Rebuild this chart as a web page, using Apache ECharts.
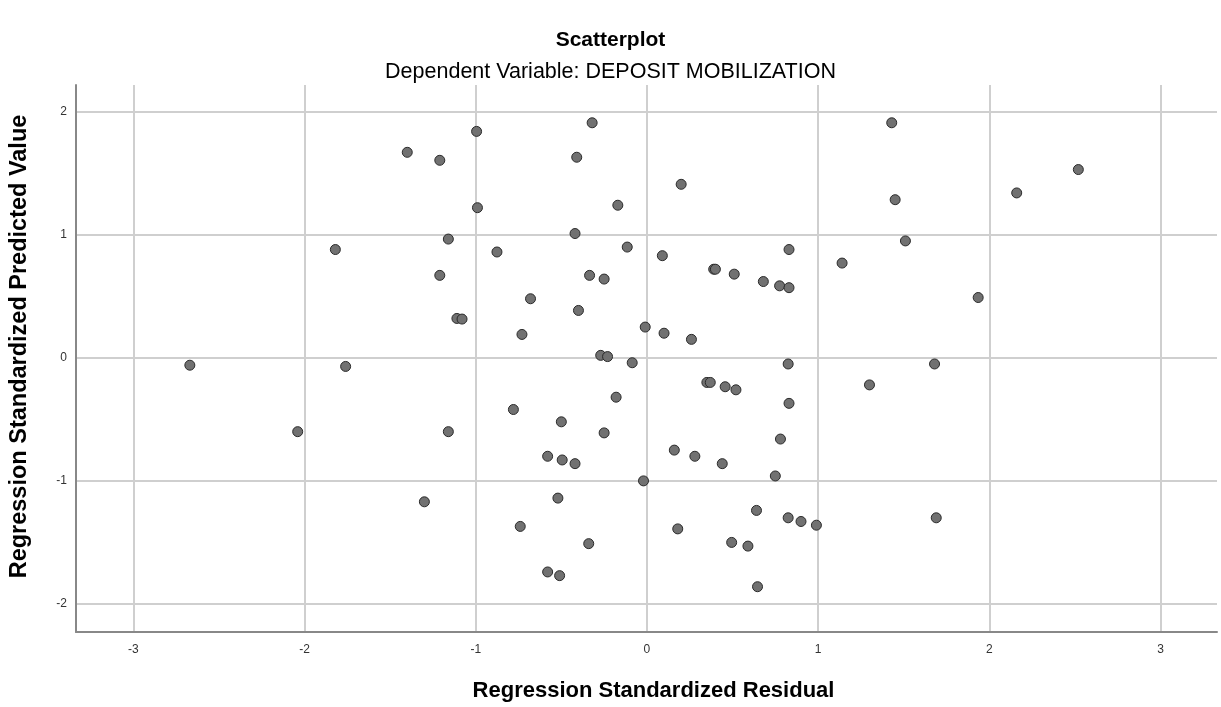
<!DOCTYPE html>
<html>

<head>
    <title>Scatterplot</title>
    <meta charset="utf-8">
    <script src="https://cdn.jsdelivr.net/npm/echarts@6/dist/echarts.min.js"></script>
    <style>
        html, body { margin: 0; padding: 0; background: #fff; }
    </style>
</head>

<body>
    <div id="scatter" style="width: 1221px;height:707px;"></div>
    <script>
        // regression standardized residual (x) and predicted value (y)
        var residual = [
            -2.67, -2.04, -1.82, -1.76, -1.40, -1.30, -1.21, -1.21, -1.16, -1.16,
            -1.11, -1.08, -0.995, -0.99, -0.876, -0.78, -0.68, -0.73, -0.74, -0.58,
            -0.58, -0.51, -0.52, -0.50, -0.495, -0.42, -0.41, -0.42, -0.40, -0.335,
            -0.34, -0.32, -0.27, -0.23, -0.25, -0.25, -0.18, -0.17, -0.115, -0.086,
            -0.02, -0.01, 0.09, 0.10, 0.16, 0.18, 0.20, 0.26, 0.28, 0.35,
            0.37, 0.39, 0.40, 0.44, 0.457, 0.495, 0.51, 0.52, 0.59, 0.64,
            0.646, 0.68, 0.75, 0.775, 0.78, 0.825, 0.825, 0.83, 0.83, 0.83,
            0.90, 0.99, 1.14, 1.30, 1.43, 1.45, 1.51, 1.68, 1.69, 1.935,
            2.16, 2.52
        ];
        var predicted = [
            -0.06, -0.60, 0.88, -0.07, 1.67, -1.17, 1.605, 0.67, 0.965, -0.60,
            0.32, 0.315, 1.84, 1.22, 0.86, -0.42, 0.48, 0.19, -1.37, -0.80,
            -1.74, -1.77, -1.14, -0.52, -0.83, -0.86, 1.63, 1.01, 0.385, 0.67,
            -1.51, 1.91, 0.02, 0.01, 0.64, -0.61, -0.32, 1.24, 0.90, -0.04,
            -1.00, 0.25, 0.83, 0.20, -0.75, -1.39, 1.41, 0.15, -0.80, -0.20,
            -0.20, 0.72, 0.72, -0.86, -0.235, -1.50, 0.68, -0.26, -1.53, -1.24,
            -1.86, 0.62, -0.96, 0.585, -0.66, -1.30, -0.05, 0.88, 0.57, -0.37,
            -1.33, -1.36, 0.77, -0.22, 1.91, 1.285, 0.95, -0.05, -1.30, 0.49,
            1.34, 1.53
        ];
        var xTicks = [-3, -2, -1, 0, 1, 2, 3];
        var yTicks = [-2, -1, 0, 1, 2];

        var points = residual.map(function (x, i) { return [x, predicted[i]]; });

        var font = '"Liberation Sans", Arial, sans-serif';
        var chart = echarts.init(document.getElementById('scatter'));
        chart.setOption({
            animation: false,
            title: [
                {
                    text: 'Scatterplot',
                    left: 'center',
                    top: 25,
                    textStyle: { fontFamily: font, fontSize: 21, fontWeight: 'bold', color: '#000' }
                },
                {
                    text: 'Dependent Variable: DEPOSIT MOBILIZATION',
                    left: 'center',
                    top: 56,
                    textStyle: { fontFamily: font, fontSize: 21.5, fontWeight: 'normal', color: '#000' }
                }
            ],
            grid: { left: 76, right: 4, top: 85, bottom: 75 },
            xAxis: {
                type: 'value',
                min: -3.335,
                max: 3.33,
                splitNumber: 6,
                name: 'Regression Standardized Residual',
                nameLocation: 'middle',
                nameGap: 48,
                nameTextStyle: { fontFamily: font, fontSize: 22, fontWeight: 'bold', color: '#000', padding: [0, 0, 0, 14] },
                axisLine: { onZero: false, lineStyle: { color: '#888', width: 2 } },
                axisTick: { show: false },
                axisLabel: {
                    fontFamily: font, fontSize: 12, color: '#333', margin: 12,
                    showMinLabel: false, showMaxLabel: false,
                    formatter: function (v) { return xTicks.indexOf(v) >= 0 ? String(v) : ''; }
                },
                splitLine: { show: true, showMinLine: false, showMaxLine: false, lineStyle: { color: '#cfcfcf', width: 2 } }
            },
            yAxis: {
                type: 'value',
                min: -2.228,
                max: 2.217,
                splitNumber: 4,
                name: 'Regression Standardized Predicted Value',
                nameLocation: 'middle',
                nameGap: 44,
                nameTextStyle: { fontFamily: font, fontSize: 23.5, fontWeight: 'bold', color: '#000', padding: [0, 0, 0, 24] },
                axisLine: { show: true, onZero: false, lineStyle: { color: '#888', width: 2 } },
                axisTick: { show: false },
                axisLabel: {
                    fontFamily: font, fontSize: 12, color: '#333', margin: 9,
                    showMinLabel: false, showMaxLabel: false,
                    formatter: function (v) { return yTicks.indexOf(v) >= 0 ? String(v) : ''; }
                },
                splitLine: { show: true, showMinLine: false, showMaxLine: false, lineStyle: { color: '#cfcfcf', width: 2 } }
            },
            series: [
                {
                    type: 'scatter',
                    data: points,
                    symbol: 'circle',
                    symbolSize: 10,
                    itemStyle: { color: '#717171', borderColor: '#2a2a2a', borderWidth: 1, opacity: 1 }
                }
            ]
        });
    </script>
</body>

</html>
